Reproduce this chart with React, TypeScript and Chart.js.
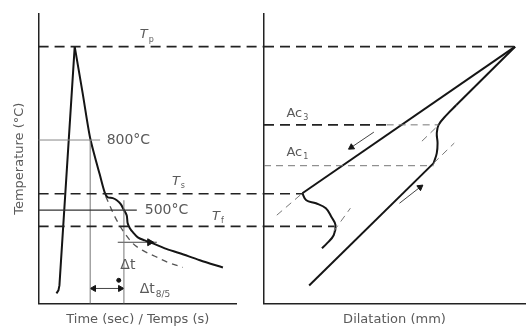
import React, { useEffect, useRef } from "react";
import { Chart, registerables } from "chart.js";
Chart.register(...registerables);

const FONT = "'DejaVu Sans', sans-serif";
const TEXT = "#5a5a5a";
const INK = "#151515";

// Temperature scale (shared by both panels)
const TEMP_MIN = 100;
const TEMP_MAX = 1340;
const T_P = 1200;
const T_S = 570;
const T_F = 430;
const T_800 = 800;
const T_500 = 500;
const AC3 = 865;
const AC1 = 690;

// Left panel: thermal cycle (time units 0..100)
const TIME_MAX = 100;
const TIME_EDGE = 113.6; // dashed levels continue to the second panel
const t800 = 26;
const t500 = 43;
const riseTime = [9, 10, 10.5, 18.2];
const riseTemp = [143, 156, 177, T_P];
const fallTime = [18.2, 22.2, 25.8, 28.3, 30.8, 33.3, 34.8, 37.4, 39.4, 41.4, 43, 44.4, 44.9, 46, 47.5, 50, 53.5, 57.6, 63.6, 71.2, 81.3, 92.9];
const fallTemp = [T_P, 1001, 816, 730, 653, 576, 555, 551, 542, 525, 500, 478, 443, 422, 405, 383, 370, 357, 336, 315, 285, 254];
const refTime = [33.8, 37.4, 39.4, 42.4, 47.5, 52.5, 58.6, 65.2, 72.7];
const refTemp = [559, 490, 456, 413, 357, 327, 302, 276, 254];

// Right panel: dilatation (0..100)
const DIL_MAX = 100;
const dPeak = 96.2;
const coolStraightD = [dPeak, 14.7];
const coolStraightT = [T_P, 572];
const coolWiggleD = [14.7, 16.2, 19.9, 23.7, 25.9, 27.4, 26.7, 24.1, 22.2];
const coolWiggleT = [572, 542, 529, 508, 469, 435, 392, 357, 336];
const heatLowD = [17.3, 65.0];
const heatLowT = [177, 701];
const heatWiggleD = [65.0, 66.2, 66.5, 66.2, 66.9, 69.9, 73.7];
const heatWiggleT = [701, 744, 787, 829, 865, 907, 950];
const heatHighD = [73.7, dPeak];
const heatHighT = [950, T_P];

const X_TITLE_LEFT = "Time (sec) / Temps (s)";
const X_TITLE_RIGHT = "Dilatation (mm)";
const Y_TITLE = "Temperature (°C)";

type Label = { text: string; sub?: string; x: number; y: number; size: number; italic?: boolean };

const leftLabels: Label[] = [
  { text: "800°C", x: 34.3, y: T_800, size: 14 },
  { text: "500°C", x: 53.5, y: T_500, size: 14 },
  { text: "T", sub: "p", x: 51, y: 1250, size: 13, italic: true },
  { text: "T", sub: "s", x: 67.2, y: 623, size: 13, italic: true },
  { text: "T", sub: "f", x: 87.4, y: 473, size: 13, italic: true },
  { text: "Δt", x: 41.2, y: 263, size: 14 },
  { text: "Δt", sub: "8/5", x: 51, y: 160, size: 14 },
];
const rightLabels: Label[] = [
  { text: "Ac", sub: "3", x: 8.6, y: 915, size: 13 },
  { text: "Ac", sub: "1", x: 8.6, y: 748, size: 13 },
];

const labelPlugin = {
  id: "labels",
  afterDatasetsDraw(chart: any, _a: any, opts: any) {
    const items: Label[] = opts.items || [];
    const { ctx, scales } = chart;
    ctx.save();
    ctx.fillStyle = TEXT;
    ctx.textBaseline = "middle";
    ctx.textAlign = "left";
    for (const it of items) {
      const px = scales.x.getPixelForValue(it.x);
      const py = scales.y.getPixelForValue(it.y);
      ctx.font = `${it.italic ? "italic " : ""}${it.size}px ${FONT}`;
      ctx.fillText(it.text, px, py);
      if (it.sub) {
        const w = ctx.measureText(it.text).width;
        ctx.font = `${Math.round(it.size * 0.62)}px ${FONT}`;
        ctx.fillText(it.sub, px + w + 1, py + it.size * 0.38);
      }
    }
    ctx.restore();
  },
};

const pts = (xs: number[], ys: number[]) => xs.map((x, i) => ({ x, y: ys[i] }));
const base = { pointRadius: 0, fill: false, clip: false as any, tension: 0 };
const solid = (xs: number[], ys: number[], tension = 0) => ({ ...base, data: pts(xs, ys), borderColor: INK, borderWidth: 2, tension });
const bigDash = (xs: number[], ys: number[]) => ({ ...base, data: pts(xs, ys), borderColor: "#222", borderWidth: 1.6, borderDash: [10, 6] });
const thinDash = (xs: number[], ys: number[]) => ({ ...base, data: pts(xs, ys), borderColor: "#777", borderWidth: 1, borderDash: [7, 5] });
const thin = (xs: number[], ys: number[], color = "#777", w = 1) => ({ ...base, data: pts(xs, ys), borderColor: color, borderWidth: w });
const arrow = (xs: number[], ys: number[], radius: number[], rot: number[]) => ({
  ...base,
  data: pts(xs, ys),
  borderColor: "#444",
  borderWidth: 1,
  pointStyle: "triangle",
  pointRadius: radius,
  pointRotation: rot,
  pointBackgroundColor: INK,
  pointBorderColor: INK,
});

const axisBase = (min: number, max: number, title?: string, pad?: any) => ({
  type: "linear",
  min,
  max,
  ticks: { display: false },
  grid: { display: false, drawTicks: false },
  border: { display: true, color: "#222", width: 1.5 },
  title: title
    ? { display: true, text: title, color: TEXT, font: { family: FONT, size: 13 }, padding: pad }
    : { display: false },
});

export default function App() {
  const leftRef = useRef<HTMLCanvasElement>(null);
  const rightRef = useRef<HTMLCanvasElement>(null);

  useEffect(() => {
    const left = new Chart(leftRef.current!, {
      type: "line",
      data: {
        datasets: [
          bigDash([0, TIME_EDGE], [T_P, T_P]),
          bigDash([0, TIME_EDGE], [T_S, T_S]),
          bigDash([0, TIME_EDGE], [T_F, T_F]),
          thin([0, 31], [T_800, T_800], "#888", 1),
          thin([0, 49.5], [T_500, T_500], "#333", 1.2),
          thin([t800, t800], [TEMP_MIN, T_800], "#777", 1),
          thin([t500, t500], [TEMP_MIN, 542], "#777", 1),
          solid(riseTime, riseTemp),
          solid(fallTime, fallTemp, 0.3),
          { ...base, data: pts(refTime, refTemp), borderColor: "#555", borderWidth: 1.3, borderDash: [6, 5], tension: 0.35 },
          arrow([39.9, 56, 59.6], [362, 362, 362], [0, 4, 0], [0, 90, 0]),
          arrow([t800, 27.8, 41.2, t500], [164, 164, 164, 164], [0, 3.5, 3.5, 0], [0, 270, 90, 0]),
          { ...base, data: [{ x: 40.4, y: 199 }], showLine: false, pointRadius: 2, pointBackgroundColor: INK, pointBorderColor: INK },
        ] as any,
      },
      options: {
        responsive: false,
        animation: false,
        events: [],
        layout: { padding: { left: 4, top: 14, right: 293, bottom: 3 } },
        plugins: { legend: { display: false }, tooltip: { enabled: false }, labels: { items: leftLabels } } as any,
        scales: {
          x: axisBase(0, TIME_MAX, X_TITLE_LEFT, { top: 8, bottom: 0 }),
          y: axisBase(TEMP_MIN, TEMP_MAX, Y_TITLE, { top: 8, bottom: 11 }),
        } as any,
      },
      plugins: [labelPlugin],
    });

    const right = new Chart(rightRef.current!, {
      type: "line",
      data: {
        datasets: [
          bigDash([0, dPeak], [T_P, T_P]),
          bigDash([0, 14.7], [T_S, T_S]),
          bigDash([0, 27], [T_F, T_F]),
          bigDash([0, 47], [AC3, AC3]),
          thinDash([47, 66.9], [AC3, AC3]),
          thinDash([0, 65], [AC1, AC1]),
          thinDash([4.9, 14.7], [478, 572]),
          thinDash([26.7, 33.1], [409, 508]),
          thinDash([60.5, 66.9], [795, 864]),
          thinDash([65.0, 72.9], [701, 787]),
          solid(coolStraightD, coolStraightT),
          solid(coolWiggleD, coolWiggleT, 0.4),
          solid(heatLowD, heatLowT),
          solid(heatWiggleD, heatWiggleT, 0.4),
          solid(heatHighD, heatHighT),
          arrow([42.1, 33.5], [834, 769], [0, 3.5], [0, 237]),
          arrow([51.9, 59.8], [529, 598], [0, 3.5], [0, 53]),
        ] as any,
      },
      options: {
        responsive: false,
        animation: false,
        events: [],
        layout: { padding: { left: 264, top: 14, right: 0, bottom: 3 } },
        plugins: { legend: { display: false }, tooltip: { enabled: false }, labels: { items: rightLabels } } as any,
        scales: {
          x: axisBase(0, DIL_MAX, X_TITLE_RIGHT, { top: 8, bottom: 0 }),
          y: axisBase(TEMP_MIN, TEMP_MAX),
        } as any,
      },
      plugins: [labelPlugin],
    });

    return () => {
      left.destroy();
      right.destroy();
    };
  }, []);

  const cv: React.CSSProperties = { position: "absolute", left: 0, top: 0, width: 530, height: 330 };
  return (
    <div style={{ position: "fixed", left: 0, top: 0, width: 530, height: 330, background: "#fff" }}>
      <canvas ref={leftRef} width={530} height={330} style={cv} />
      <canvas ref={rightRef} width={530} height={330} style={cv} />
    </div>
  );
}
